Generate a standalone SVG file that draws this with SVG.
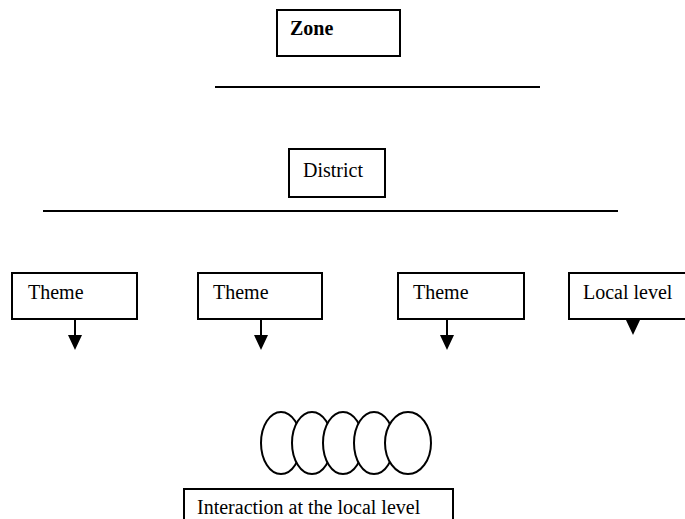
<svg xmlns="http://www.w3.org/2000/svg" width="685" height="519" viewBox="0 0 685 519">
<style>
.box{fill:#fff;stroke:#000;stroke-width:2}
.t{font-family:"Liberation Serif","Times New Roman",serif;font-size:20px;fill:#000}
.b{font-weight:bold}
.ln{stroke:#000;stroke-width:2;fill:none}
.el{fill:#fff;stroke:#000;stroke-width:2}
.ah{fill:#000}
</style>
<rect width="685" height="519" fill="#fff"/>
<g id="zone"><rect class="box" x="277" y="10" width="123" height="46"/><text class="t b" x="290" y="35">Zone</text></g>
<g id="district"><rect class="box" x="289" y="149" width="96" height="48"/><text class="t" x="303" y="177">District</text></g>
<g id="theme1"><rect class="box" x="12" y="273" width="125" height="46"/><text class="t" x="28" y="299">Theme</text></g>
<g id="theme2"><rect class="box" x="198" y="273" width="124" height="46"/><text class="t" x="213" y="299">Theme</text></g>
<g id="theme3"><rect class="box" x="398" y="273" width="126" height="46"/><text class="t" x="413" y="299">Theme</text></g>
<g id="local"><rect class="box" x="569" y="273" width="125" height="46"/><text class="t" x="583" y="299">Local level</text></g>
<g id="interactions">
<ellipse class="el" cx="281" cy="443" rx="20" ry="31"/>
<ellipse class="el" cx="312" cy="443" rx="20" ry="31"/>
<ellipse class="el" cx="343" cy="443" rx="20" ry="31"/>
<ellipse class="el" cx="374" cy="443" rx="20" ry="31"/>
<ellipse class="el" cx="408" cy="443" rx="23" ry="31"/>
</g>
<g id="interaction-box"><rect class="box" x="184" y="489" width="269" height="40"/><text class="t" x="197" y="514">Interaction at the local level</text></g>
<g id="connectors">
<line class="ln" x1="215" y1="87" x2="540" y2="87"/>
<line class="ln" x1="43" y1="211" x2="618" y2="211"/>
<line class="ln" x1="75" y1="319" x2="75" y2="336"/>
<polygon class="ah" points="68,335 82,335 75,350"/>
<line class="ln" x1="261" y1="319" x2="261" y2="336"/>
<polygon class="ah" points="254,335 268,335 261,350"/>
<line class="ln" x1="447" y1="319" x2="447" y2="336"/>
<polygon class="ah" points="440,335 454,335 447,350"/>
<polygon class="ah" points="626,320 640,320 633,335"/>
</g>
</svg>
